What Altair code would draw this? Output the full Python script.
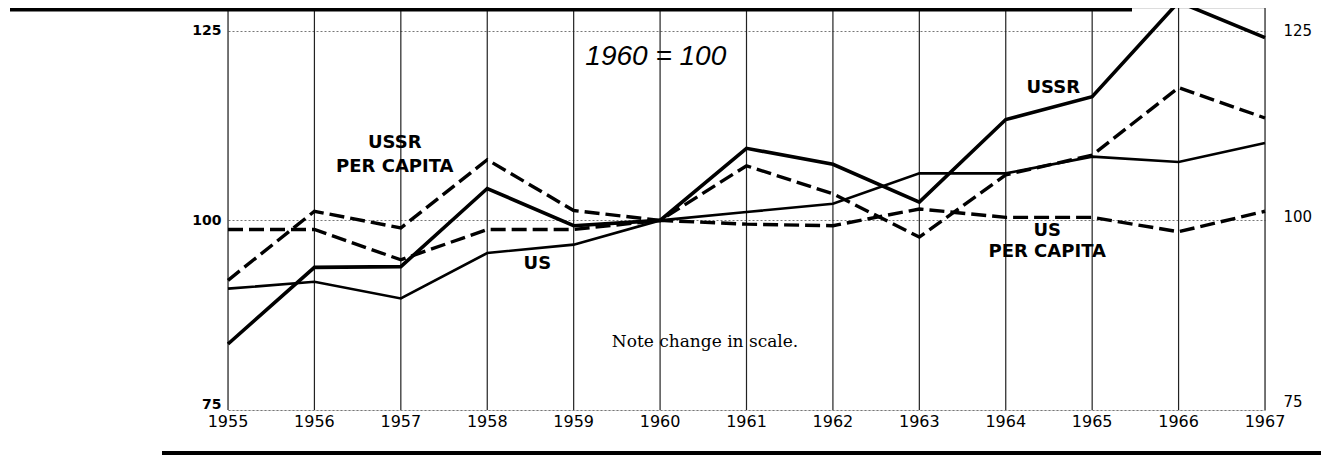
import altair as alt
import pandas as pd

years = list(range(1955, 1968))
ussr = [83.7, 93.8, 93.9, 104.2, 99.3, 100.0, 109.5, 107.4, 102.4, 113.3, 116.3, 128.8, 124.1]
us = [91.0, 91.9, 89.7, 95.7, 96.8, 100.0, 101.1, 102.2, 106.2, 106.2, 108.4, 107.7, 110.2]
ussr_per_capita = [92.1, 101.2, 99.0, 108.0, 101.3, 100.0, 107.2, 103.5, 97.8, 106.0, 108.6, 117.5, 113.5]
us_per_capita = [98.8, 98.8, 94.8, 98.8, 98.8, 100.0, 99.5, 99.3, 101.5, 100.4, 100.4, 98.5, 101.2]

year_labels = [str(y) for y in years]
y_ticks = [75, 100, 125]

label_text = ["USSR", "PER CAPITA", "US", "USSR", "US", "PER CAPITA"]
label_year = [1956.93, 1956.93, 1958.58, 1964.55, 1964.48, 1964.48]
label_value = [110.2, 107.1, 94.3, 117.4, 98.55, 95.8]

X_DOMAIN = [1955, 1967]
Y_DOMAIN = [75, 128]

xs = alt.Scale(domain=X_DOMAIN, nice=False, zero=False)
ys = alt.Scale(domain=Y_DOMAIN, nice=False, zero=False)


def frame(vals):
    return pd.DataFrame({"year": years, "value": vals})


y_left_axis = alt.Axis(
    values=y_ticks, grid=True, gridColor="#777", gridDash=[2, 2], gridWidth=1,
    ticks=False, domain=False, labelFont="DejaVu Sans", labelFontSize=14,
    labelFontWeight="bold", labelColor="black", labelPadding=7, title=None,
    labelOffset=alt.ExprRef("datum.value == 75 ? -6 : 0"),
)
y_right_axis = alt.Axis(
    orient="right", values=y_ticks, grid=False, ticks=False, domain=False,
    labelFont="DejaVu Sans", labelFontSize=15, labelColor="black", labelPadding=18,
    title=None, labelOffset=alt.ExprRef("datum.value == 75 ? -9 : (datum.value == 100 ? -4 : 0)"),
)

years_df = pd.DataFrame({"year": years, "label": year_labels})

# vertical year grid lines
vgrid = alt.Chart(years_df).mark_rule(color="#222", strokeWidth=1.2).encode(
    x=alt.X("year:Q", scale=xs, axis=None),
)
# year labels under the plot
year_text = alt.Chart(years_df).mark_text(
    font="DejaVu Sans", fontSize=16, color="black", align="center", baseline="top"
).encode(
    x=alt.X("year:Q", scale=xs, axis=None),
    y=alt.value(406),
    text="label:N",
)

ussr_line = alt.Chart(frame(ussr)).mark_line(color="black", strokeWidth=3.6, clip=False).encode(
    x=alt.X("year:Q", scale=xs, axis=None),
    y=alt.Y("value:Q", scale=ys, axis=y_left_axis),
)
us_line = alt.Chart(frame(us)).mark_line(color="black", strokeWidth=2.6).encode(
    x=alt.X("year:Q", scale=xs, axis=None),
    y=alt.Y("value:Q", scale=ys, axis=y_right_axis),
)
ussr_pc_line = alt.Chart(frame(ussr_per_capita)).mark_line(
    color="black", strokeWidth=3.4, strokeDash=[15, 6]
).encode(
    x=alt.X("year:Q", scale=xs, axis=None),
    y=alt.Y("value:Q", scale=ys, axis=None),
)
us_pc_line = alt.Chart(frame(us_per_capita)).mark_line(
    color="black", strokeWidth=3.4, strokeDash=[15, 6]
).encode(
    x=alt.X("year:Q", scale=xs, axis=None),
    y=alt.Y("value:Q", scale=ys, axis=None),
)

labels_df = pd.DataFrame({"text": label_text, "year": label_year, "value": label_value})
labels = alt.Chart(labels_df).mark_text(
    font="DejaVu Sans", fontSize=18, fontWeight="bold", color="black",
    align="center", baseline="middle"
).encode(
    x=alt.X("year:Q", scale=xs, axis=None),
    y=alt.Y("value:Q", scale=ys, axis=None),
    text="text:N",
)

base_df = pd.DataFrame({"text": ["1960 = 100"], "year": [1959.95], "value": [121.6]})
base_label = alt.Chart(base_df).mark_text(
    font="Liberation Sans", fontSize=28, fontStyle="italic", color="black",
    align="center", baseline="middle"
).encode(
    x=alt.X("year:Q", scale=xs, axis=None),
    y=alt.Y("value:Q", scale=ys, axis=None),
    text="text:N",
)

note_df = pd.DataFrame({"text": ["Note change in scale."], "year": [1960.52], "value": [84.0]})
note = alt.Chart(note_df).mark_text(
    font="DejaVu Serif", fontSize=17, color="black", align="center", baseline="middle"
).encode(
    x=alt.X("year:Q", scale=xs, axis=None),
    y=alt.Y("value:Q", scale=ys, axis=None),
    text="text:N",
)

top_bar = alt.Chart(pd.DataFrame({"k": [0]})).mark_rule(color="black", strokeWidth=5).encode(
    x=alt.value(-218), x2=alt.value(904), y=alt.value(1)
)
bottom_bar = alt.Chart(pd.DataFrame({"k": [0]})).mark_rule(color="black", strokeWidth=4).encode(
    x=alt.value(-66), x2=alt.value(1103), y=alt.value(445)
)

chart = alt.layer(
    vgrid, ussr_line, us_line, ussr_pc_line, us_pc_line, labels, base_label, note,
    year_text, top_bar, bottom_bar
).resolve_axis(y="independent").properties(
    width=1037,
    height=402,
    autosize=alt.AutoSizeParams(type="none"),
    padding={"left": 220, "right": 56, "top": 0, "bottom": 45},
).configure_view(strokeWidth=0).configure(background="white")

chart.save("out.html", embed_options={"renderer": "svg", "actions": False})
